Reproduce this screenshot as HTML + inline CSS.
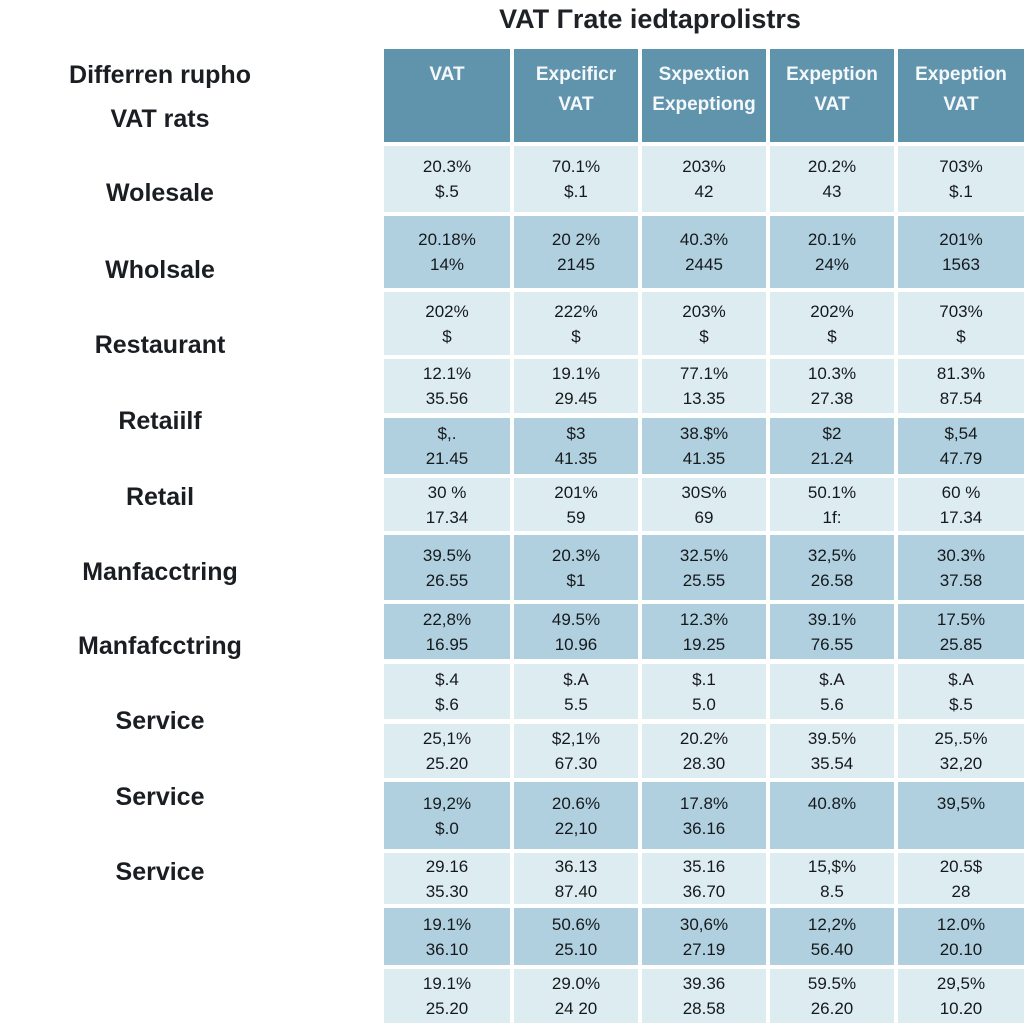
<!DOCTYPE html>
<html><head><meta charset="utf-8"><style>
body{margin:0;width:1024px;height:1024px;background:#fff;position:relative;overflow:hidden;font-family:"Liberation Sans",sans-serif;}
.t{position:absolute;color:#1e2226;text-align:center;}
.cell{position:absolute;display:flex;flex-direction:column;align-items:center;justify-content:center;color:#15191c;font-size:17px;line-height:25px;}
.hd{color:#f4f8fa;font-size:19px;line-height:30px;font-weight:bold;background:#6094ad;}
.lab{position:absolute;font-weight:bold;font-size:25px;width:320px;left:0px;text-align:center;color:#1a1e22;}
</style></head><body>
<div class="t" style="left:400px;width:500px;top:4px;font-size:27px;font-weight:bold;">VAT Γrate iedtaprolistrs</div>
<div class="lab" style="top:60px;line-height:30px;">Differren rupho</div>
<div class="lab" style="top:104px;line-height:30px;">VAT rats</div>
<div id="root"></div>
<script>
const headers=[["VAT"],["Expcificr","VAT"],["Sxpextion","Expeptiong"],["Expeption","VAT"],["Expeption","VAT"]];
const rowLabels=["Wolesale","Wholsale","Restaurant","Retaiilf","Retail","Manfacctring","Manfafcctring","Service","Service","Service"];
const labelY=[193,270,345,421,497,572,646,721,797,872];
const cells=[
[["20.3%","$.5"],["70.1%","$.1"],["203%","42"],["20.2%","43"],["703%","$.1"]],
[["20.18%","14%"],["20 2%","2145"],["40.3%","2445"],["20.1%","24%"],["201%","1563"]],
[["202%","$"],["222%","$"],["203%","$"],["202%","$"],["703%","$"]],
[["12.1%","35.56"],["19.1%","29.45"],["77.1%","13.35"],["10.3%","27.38"],["81.3%","87.54"]],
[["$,.","21.45"],["$3","41.35"],["38.$%","41.35"],["$2","21.24"],["$,54","47.79"]],
[["30 %","17.34"],["201%","59"],["30S%","69"],["50.1%","1f:"],["60 %","17.34"]],
[["39.5%","26.55"],["20.3%","$1"],["32.5%","25.55"],["32,5%","26.58"],["30.3%","37.58"]],
[["22,8%","16.95"],["49.5%","10.96"],["12.3%","19.25"],["39.1%","76.55"],["17.5%","25.85"]],
[["$.4","$.6"],["$.A","5.5"],["$.1","5.0"],["$.A","5.6"],["$.A","$.5"]],
[["25,1%","25.20"],["$2,1%","67.30"],["20.2%","28.30"],["39.5%","35.54"],["25,.5%","32,20"]],
[["19,2%","$.0"],["20.6%","22,10"],["17.8%","36.16"],["40.8%",""],["39,5%",""]],
[["29.16","35.30"],["36.13","87.40"],["35.16","36.70"],["15,$%","8.5"],["20.5$","28"]],
[["19.1%","36.10"],["50.6%","25.10"],["30,6%","27.19"],["12,2%","56.40"],["12.0%","20.10"]],
[["19.1%","25.20"],["29.0%","24 20"],["39.36","28.58"],["59.5%","26.20"],["29,5%","10.20"]]
];
const rowTop=[146,216,292,359,418,478,535,604,664,724,782,853,908,969];
const rowBot=[212,288,355,413,474,531,600,659,719,778,849,904,965,1023];
const rowShade=[0,1,0,0,1,0,1,1,0,0,1,0,1,0];
const colL=[384,514,642,770,898], colR=[510,638,766,894,1024];
const root=document.getElementById('root');
headers.forEach((h,j)=>{
  const d=document.createElement('div');
  d.className='cell hd';
  
  
  d.style.cssText=`left:${colL[j]}px;width:${colR[j]-colL[j]}px;top:49px;height:93px;justify-content:flex-start;padding-top:11px;box-sizing:border-box;`;
  d.innerHTML=h.map(s=>`<div>${s}</div>`).join('');
  root.appendChild(d);
});
cells.forEach((r,i)=>{
  r.forEach((c,j)=>{
    const d=document.createElement('div');
    d.className='cell';
    
    
    d.style.cssText=`left:${colL[j]}px;width:${colR[j]-colL[j]}px;top:${rowTop[i]}px;height:${rowBot[i]-rowTop[i]}px;background:${rowShade[i]?'#b0d0df':'#ddecf1'};`;
    d.innerHTML=`<div>${c[0]}</div><div>${c[1]||'&nbsp;'}</div>`;
    root.appendChild(d);
  });
});
rowLabels.forEach((l,i)=>{
  const d=document.createElement('div');
  d.className='lab';
  
  
  d.style.top=(labelY[i]-14)+'px';
  d.style.lineHeight='28px';
  d.textContent=l;
  root.appendChild(d);
});
</script>
</body></html>
